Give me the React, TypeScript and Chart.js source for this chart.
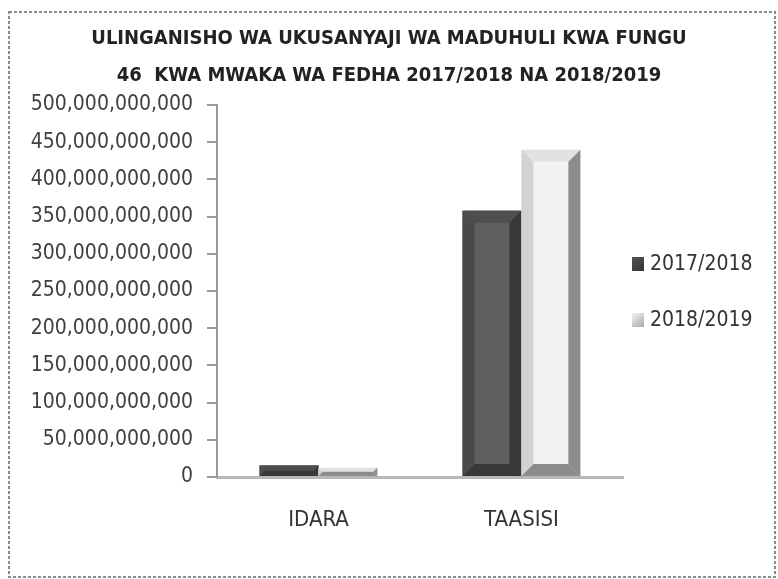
import React, { useEffect, useRef } from "react";
import { Chart, registerables } from "chart.js";

Chart.register(...registerables);

const categories = ["IDARA", "TAASISI"];
const seriesNames = ["2017/2018", "2018/2019"];
const values2017 = [15500000000, 358000000000];
const values2018 = [12500000000, 440000000000];
const titleLines = [
  "ULINGANISHO WA UKUSANYAJI WA MADUHULI KWA FUNGU",
  "46  KWA MWAKA WA FEDHA 2017/2018 NA 2018/2019",
];
const yMax = 500000000000;
const yStep = 50000000000;

const FONT = "'DejaVu Sans Condensed', 'Liberation Sans Narrow', sans-serif";

const PALETTES = [
  { face: "#5e5e5e", top: "#4e4e4e", left: "#4a4a4a", right: "#383838", bottom: "#383838", legendA: "#555555", legendB: "#333333" },
  { face: "#f2f2f2", top: "#e2e2e2", left: "#d2d2d2", right: "#8c8c8c", bottom: "#8c8c8c", legendA: "#f4f4f4", legendB: "#a8a8a8" },
];

const BEVEL = 12;

const bevelPlugin = {
  id: "bevel",
  afterDatasetsDraw(chart: any) {
    const ctx = chart.ctx;
    ctx.save();
    chart.data.datasets.forEach((_ds: any, di: number) => {
      const meta = chart.getDatasetMeta(di);
      const pal = PALETTES[di];
      meta.data.forEach((bar: any) => {
        const { x, y, base, width } = bar.getProps(["x", "y", "base", "width"], true);
        const l = x - width / 2;
        const r = x + width / 2;
        const t = Math.min(y, base);
        const b = Math.max(y, base);
        const h = b - t;
        const s = Math.min(BEVEL, width / 2, h / 2);
        const poly = (pts: number[][], color: string) => {
          ctx.beginPath();
          ctx.moveTo(pts[0][0], pts[0][1]);
          for (let i = 1; i < pts.length; i++) ctx.lineTo(pts[i][0], pts[i][1]);
          ctx.closePath();
          ctx.fillStyle = color;
          ctx.fill();
        };
        poly([[l, t], [r, t], [r, b], [l, b]], pal.face);
        poly([[l, t], [r, t], [r - s, t + s], [l + s, t + s]], pal.top);
        poly([[l, t], [l + s, t + s], [l + s, b - s], [l, b]], pal.left);
        poly([[r, t], [r - s, t + s], [r - s, b - s], [r, b]], pal.right);
        poly([[l, b], [r, b], [r - s, b - s], [l + s, b - s]], pal.bottom);
      });
    });
    ctx.restore();
  },
};

const frameLegendPlugin = {
  id: "frameLegend",
  beforeDraw(chart: any) {
    const ctx = chart.ctx;
    ctx.save();
    ctx.fillStyle = "#ffffff";
    ctx.fillRect(0, 0, chart.width, chart.height);
    ctx.setLineDash([3, 2]);
    ctx.strokeStyle = "#8a8a8a";
    ctx.lineWidth = 2;
    ctx.strokeRect(9, 12, 766, 565);
    ctx.restore();
  },
  afterDraw(chart: any) {
    const ctx = chart.ctx;
    const area = chart.chartArea;
    const cy = (area.top + area.bottom) / 2;
    const bx = area.right + 9;
    ctx.save();
    chart.data.datasets.forEach((ds: any, di: number) => {
      const pal = PALETTES[di];
      const yc = cy - 27 + di * 56;
      const g = ctx.createLinearGradient(bx, yc - 7, bx + 12, yc + 7);
      g.addColorStop(0, pal.legendA);
      g.addColorStop(1, pal.legendB);
      ctx.fillStyle = g;
      ctx.fillRect(bx, yc - 7, 12, 14);
      ctx.fillStyle = "#333333";
      ctx.font = `21px ${FONT}`;
      ctx.textBaseline = "middle";
      ctx.textAlign = "left";
      ctx.fillText(ds.label, bx + 18, yc + 1);
    });
    ctx.restore();
  },
};

export default function App() {
  const ref = useRef<HTMLCanvasElement | null>(null);
  useEffect(() => {
    if (!ref.current) return;
    const chart = new Chart(ref.current, {
      type: "bar",
      data: {
        labels: categories,
        datasets: [
          { label: seriesNames[0], data: values2017, backgroundColor: PALETTES[0].face, borderWidth: 0, yAxisID: "y" },
          { label: seriesNames[1], data: values2018, backgroundColor: PALETTES[1].face, borderWidth: 0, yAxisID: "y" },
        ],
      },
      options: {
        responsive: false,
        animation: false,
        layout: { padding: { left: 0, right: 0, top: 0, bottom: 0 } },
        datasets: { bar: { categoryPercentage: 0.58, barPercentage: 1.0 } },
        plugins: {
          legend: { display: false },
          tooltip: { enabled: false },
          title: {
            display: true,
            text: titleLines,
            color: "#222222",
            font: { family: FONT, size: 20, weight: "bold", lineHeight: 37 / 20 },
            padding: { top: 20, bottom: 11 },
          },
        },
        scales: {
          x: {
            grid: { display: true, drawOnChartArea: false, drawTicks: false, color: "rgba(0,0,0,0)" },
            border: { display: true, color: "#b8b8b8", width: 3 },
            ticks: { color: "#333333", font: { family: FONT, size: 22 }, padding: 30 },
            afterFit: (s: any) => { s.height = 102; },
          },
          y: {
            min: 0,
            max: yMax,
            ticks: {
              stepSize: yStep,
              color: "#404040",
              font: { family: FONT, size: 21 },
              padding: 14,
              callback: (v: any) => Number(v).toLocaleString("en-US"),
            },
            grid: { display: true, drawOnChartArea: false, drawTicks: true, tickLength: 10, color: "#9a9a9a", lineWidth: 2 },
            border: { display: true, color: "#9a9a9a", width: 2 },
            afterFit: (s: any) => { s.width = 217; },
          },
          legendSpace: {
            type: "linear",
            position: "right",
            display: true,
            min: 0,
            max: 1,
            grid: { display: false },
            border: { display: false },
            ticks: { display: false },
            afterFit: (s: any) => { s.width = 155; },
          },
        },
      },
      plugins: [bevelPlugin, frameLegendPlugin],
    });
    return () => chart.destroy();
  }, []);
  return (
    <div style={{ position: "fixed", left: 0, top: 0, width: 778, height: 579 }}>
      <canvas ref={ref} width={778} height={579} />
    </div>
  );
}
